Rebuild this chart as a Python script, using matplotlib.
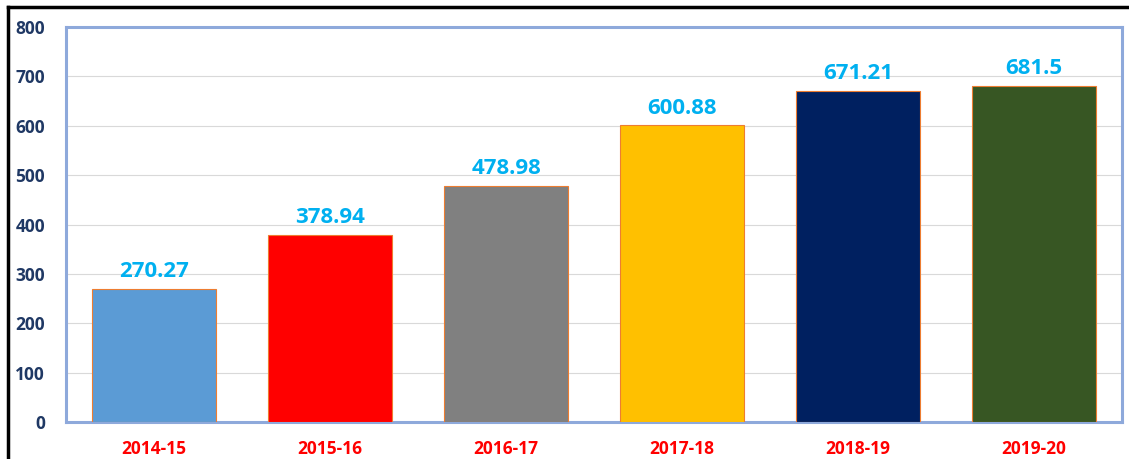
import matplotlib.pyplot as plt
from matplotlib.lines import Line2D

anos = ['2014-15', '2015-16', '2016-17', '2017-18', '2018-19', '2019-20']
valores = [270.27, 378.94, 478.98, 600.88, 671.21, 681.5]
rotulos = ['270.27', '378.94', '478.98', '600.88', '671.21', '681.5']
cores = ['#5B9BD5', '#FF0000', '#808080', '#FFC000', '#002060', '#375623']

plt.rcParams['font.family'] = ['Open Sans', 'DejaVu Sans']

fig = plt.figure(figsize=(11.29, 4.59), dpi=100)
ax = fig.add_axes([66 / 1129, 1 - 422 / 459, (1122 - 66) / 1129, (422 - 27) / 459])

x = range(len(anos))
ax.bar(x, valores, width=0.70, color=cores, edgecolor='#ED7D31', linewidth=0.8, zorder=3)

for i, v in enumerate(valores):
    ax.text(i, v + 13, rotulos[i], ha='center', va='bottom', color='#00B0F0',
            fontsize=16, fontweight='bold')

ax.set_xlim(-0.5, len(anos) - 0.5)
ax.set_ylim(0, 800)
ax.set_yticks(range(0, 801, 100))
ax.set_xticks(list(x))
ax.set_xticklabels(anos, color='#FF0000', fontsize=12.5, fontweight='bold')
for t in ax.get_yticklabels():
    t.set_color('#1F3864')
    t.set_fontsize(12.5)
    t.set_fontweight('bold')
ax.tick_params(axis='both', length=0)
ax.tick_params(axis='x', pad=13)
ax.tick_params(axis='y', pad=15)

ax.grid(axis='y', color='#D9D9D9', linewidth=0.8, zorder=0)
for s in ax.spines.values():
    s.set_color('#8EA9DB')
    s.set_linewidth(2.2)

# moldura preta (topo e esquerda)
fig.add_artist(Line2D([8 / 1129, 1], [1 - 7 / 459, 1 - 7 / 459], color='black', linewidth=2.5))
fig.add_artist(Line2D([8 / 1129, 8 / 1129], [0, 1 - 7 / 459], color='black', linewidth=2.5))

fig.savefig('out.png', dpi=100)
